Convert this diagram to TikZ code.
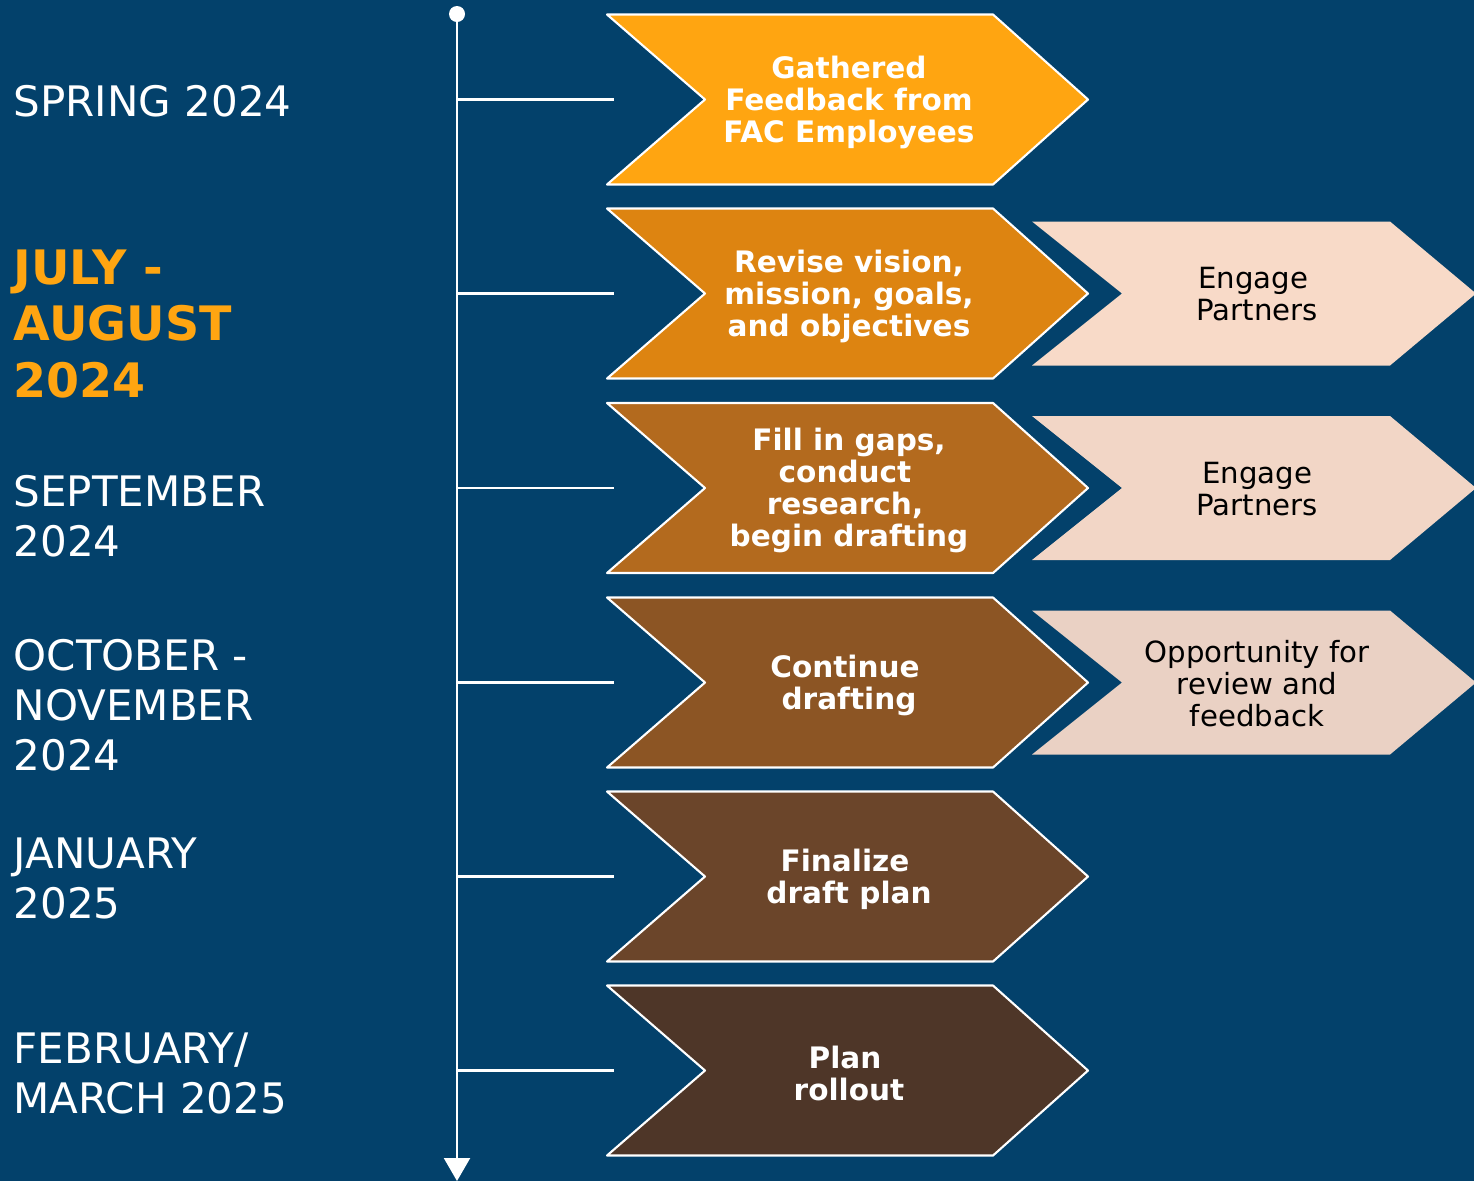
\documentclass[tikz,border=0pt]{standalone}
\usepackage{fontspec}
\setmainfont{DejaVu Sans}
\usetikzlibrary{arrows.meta}
\definecolor{bgblue}{HTML}{03416B}
\definecolor{chA}{HTML}{FFA511}
\definecolor{chB}{HTML}{DD8411}
\definecolor{chC}{HTML}{B36A1E}
\definecolor{chD}{HTML}{8C5524}
\definecolor{chE}{HTML}{6B452A}
\definecolor{chF}{HTML}{4E3628}
\definecolor{ltA}{HTML}{F8DAC8}
\definecolor{ltB}{HTML}{F2D6C6}
\definecolor{ltC}{HTML}{EAD1C4}
\newcommand{\tsp}{\kern0.08cm}
\tikzset{
  datelbl/.style={anchor=west, inner sep=0pt, align=left, text=white,
    font=\fontsize{11.95pt}{14.2pt}\selectfont},
  datenow/.style={datelbl, text=chA, font=\fontsize{13.5pt}{16.2pt}\selectfont\bfseries},
  steptxt/.style={align=center, text=white, inner sep=0pt,
    font=\fontsize{8.4pt}{9.1pt}\selectfont\bfseries},
  partnertxt/.style={align=center, text=black, inner sep=0pt,
    font=\fontsize{8.3pt}{9.1pt}\selectfont},
  branch/.style={white, line width=0.6pt}
}
\begin{document}
\begin{tikzpicture}[x=0.01cm, y=-0.01cm, line join=round]
\fill[bgblue] (0,0) rectangle (1474,1181);
\useasboundingbox (0,0) rectangle (1474,1181);
% timeline
\path (457,14) coordinate (top) (457,1181) coordinate (bottom);
\node[circle, fill=white, inner sep=0pt, minimum size=0.16cm] (start) at (top) {};
\draw[white, line width=0.6pt, -{Triangle[width=0.26cm, length=0.23cm]}] (start.center) -- (bottom);
% steps
\foreach \c/\col/\txt/\n in {
  99.5/chA/{Gathered\\Feedback from\\FAC Employees}/1,
  293.5/chB/{Revise vision,\\mission, goals,\\and objectives}/2,
  488/chC/{Fill in gaps,\\conduct\tsp\\research,\tsp\\begin drafting}/3,
  682.5/chD/{Continue\tsp\\drafting}/4,
  876.5/chE/{Finalize\tsp\\draft plan}/5,
  1070.5/chF/{Plan\tsp\\rollout}/6}{
  \path (457,\c) coordinate (t\n) (614,\c) coordinate (b\n);
  \draw[branch] (t\n) -- (b\n);
  \draw[fill=\col, draw=white, line width=0.6pt]
    (607,\c-85) -- (993,\c-85) -- (1088,\c) -- (993,\c+85) -- (607,\c+85) -- (705,\c) -- cycle;
  \node[steptxt] (step\n) at (849,\c+2.5) {\txt};
}
% partners
\foreach \c/\col/\txt/\n in {
  293.5/ltA/{Engage\tsp\\Partners}/2,
  488/ltB/{Engage\\Partners}/3,
  682.5/ltC/{Opportunity for\\review and\\feedback}/4}{
  \fill[\col] (1032,\c-72) -- (1390,\c-72) -- (1476,\c) -- (1390,\c+72) -- (1032,\c+72) -- (1122,\c) -- cycle;
  \node[partnertxt] (partner\n) at (1257,\c+1) {\txt};
}
% dates
\node[datelbl] (spring) at (13,101.5) {SPRING 2024};
\node[datenow] (julyaug) at (13,324) {JULY -\\AUGUST\\2024};
\node[datelbl] (sept) at (13,516) {SEPTEMBER\\2024};
\node[datelbl] (octnov) at (13,705) {OCTOBER -\\NOVEMBER\\2024};
\node[datelbl] (jan) at (13,878.5) {JANUARY\\2025};
\node[datelbl] (febmar) at (13,1073) {FEBRUARY/\\MARCH 2025};
\end{tikzpicture}
\end{document}
